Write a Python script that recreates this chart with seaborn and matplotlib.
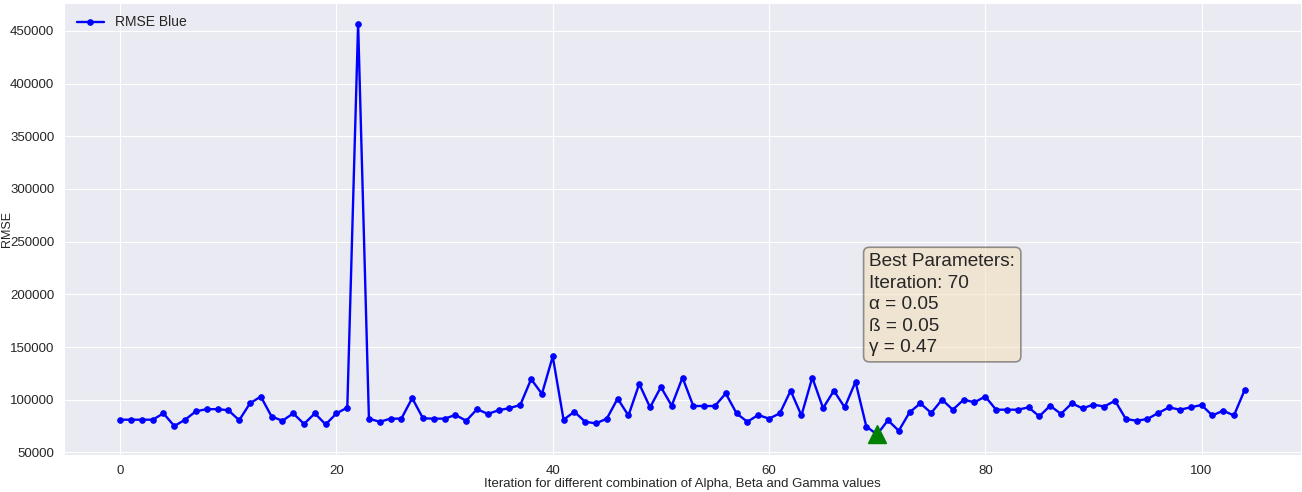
import matplotlib
matplotlib.use("Agg")
import matplotlib.pyplot as plt
import numpy as np
import pandas as pd
import seaborn as sns

# rmse per parameter combination
iterations = list(range(105))
rmse = [81000, 81000, 81000, 81000, 87000, 75000, 81000, 89000, 91000, 91000,
        90000, 80500, 96500, 103000, 84000, 80000, 87000, 77000, 87000, 76500,
        87000, 92500, 457000, 82000, 79000, 82000, 82000, 101500, 82300, 82000,
        82000, 85500, 80000, 91000, 86500, 90000, 92000, 95000, 119500, 105500,
        141000, 81000, 88500, 79000, 77500, 82000, 101000, 85000, 115000, 92700,
        112000, 94300, 121000, 94000, 94000, 94000, 106000, 87000, 79000, 85500,
        82000, 87000, 108500, 85000, 121000, 92000, 108500, 92700, 117000, 74500,
        67000, 80500, 70500, 88000, 96500, 87400, 100000, 90500, 100000, 97500,
        103000, 90500, 90500, 90500, 92700, 84200, 94300, 86500, 96500, 91800,
        95300, 93500, 99000, 81700, 80000, 81700, 87400, 92700, 90500, 92700,
        95000, 85000, 89600, 85000, 109500]
best_alpha, best_beta, best_gamma = 0.05, 0.05, 0.47

df = pd.DataFrame({'iteration': iterations, 'rmse': rmse})
best_idx = int(np.argmin(rmse))

sns.set_style("darkgrid")
plt.rcParams['font.family'] = ['Liberation Sans', 'DejaVu Sans']
plt.rcParams['text.color'] = '.15'
plt.rcParams['axes.labelcolor'] = '.15'
plt.rcParams['xtick.color'] = '.15'
plt.rcParams['ytick.color'] = '.15'

fig = plt.figure(figsize=(13.02, 4.92), dpi=100)
ax = fig.add_axes([64/1302, 1-455/492, (1301-64)/1302, (455-3)/492])

sns.lineplot(data=df, x='iteration', y='rmse', ax=ax, color='blue',
             marker='o', markersize=4, markeredgecolor='blue',
             linewidth=1.7, label='RMSE Blue')
ax.plot(best_idx, rmse[best_idx], marker='^', color='green', markersize=13,
        linestyle='none')

ax.set_xlabel('Iteration for different combination of Alpha, Beta and Gamma values',
              fontsize=9.5)
ax.xaxis.set_label_coords(0.5, -0.05)
ax.set_ylabel('RMSE', fontsize=9)
ax.yaxis.set_label_coords(-0.041, 0.5)
ax.tick_params(labelsize=9.5)
ax.set_xticks([0, 20, 40, 60, 80, 100])
ax.set_yticks(np.arange(50000, 450001, 50000))

txt = ('Best Parameters:\nIteration: %d\nα = %.2f\nß = %.2f\nγ = %.2f'
       % (best_idx, best_alpha, best_beta, best_gamma))
ax.text(0.651, 0.447, txt, transform=ax.transAxes, fontsize=13.7, va='top',
        linespacing=1.35,
        bbox=dict(boxstyle='round', facecolor='#f5deb3', alpha=0.5,
                  edgecolor='0.2', linewidth=1.2))

ax.legend(loc='upper left', frameon=False, fontsize=10)

fig.savefig('out.png', dpi=100)
